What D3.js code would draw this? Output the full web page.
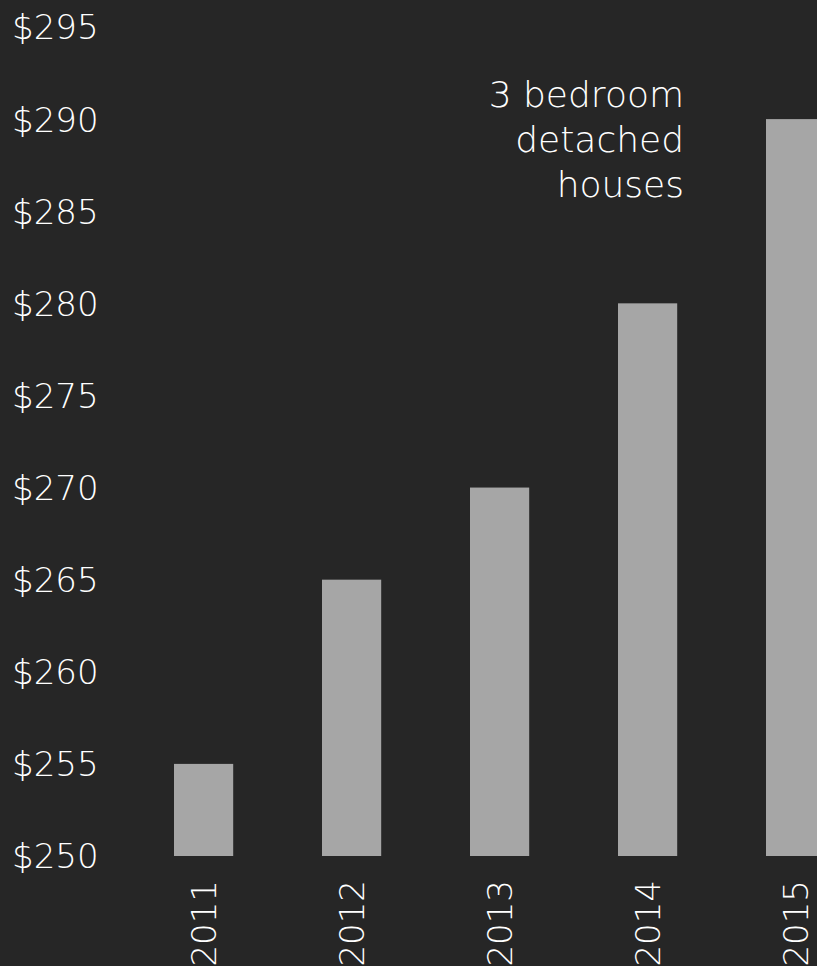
<!DOCTYPE html>
<html><head><meta charset="utf-8">
<script src="https://cdn.jsdelivr.net/npm/d3@7"></script>
<style>
html,body{margin:0;padding:0;background:#262626;}
svg{display:block;}
text{font-family:"Century Gothic","DejaVu Sans ExtraLight","DejaVu Sans",sans-serif;font-weight:200;fill:#ffffff;}
</style></head>
<body>
<script>
const categories = ["2011","2012","2013","2014","2015"];
const values = [255, 265, 270, 280, 290];
const yTicks = [250,255,260,265,270,275,280,285,290,295];
const annotation = ["3 bedroom","detached","houses"];

const W = 817, H = 966;
const svg = d3.select("body").append("svg").attr("width", W).attr("height", H);
svg.append("rect").attr("width", W).attr("height", H).attr("fill", "#262626");

const y = d3.scaleLinear().domain([250, 295]).range([856, 27]);
const x = d3.scaleBand().domain(categories).range([129.6, 869.6]).paddingInner(0.6).paddingOuter(0.3);

svg.append("g").selectAll("rect").data(values).join("rect")
  .attr("x", (d,i) => x(categories[i]))
  .attr("width", x.bandwidth())
  .attr("y", d => y(d))
  .attr("height", d => y(250) - y(d))
  .attr("fill", "#a6a6a6");

const yAxis = d3.axisLeft(y).tickValues(yTicks).tickFormat(d => "$" + d).tickSize(0).tickPadding(0);
const gy = svg.append("g").attr("transform", "translate(12,0)").call(yAxis);
gy.select(".domain").remove();
gy.selectAll("text").attr("text-anchor", "start").attr("x", 0).attr("dy", "0.35em")
  .style("font-size", "34px").attr("fill", "#ffffff");

const xAxis = d3.axisBottom(x).tickSize(0).tickPadding(0);
const gx = svg.append("g").attr("transform", "translate(0,880)").call(xAxis);
gx.select(".domain").remove();
gx.selectAll("text").attr("transform", "rotate(-90)").attr("text-anchor", "end")
  .attr("x", 0).attr("y", 0).attr("dy", "0.35em")
  .style("font-size", "34px").attr("fill", "#ffffff");

svg.append("text").attr("text-anchor", "end").attr("x", 684)
  .style("font-size", "36px")
  .selectAll("tspan").data(annotation).join("tspan")
  .attr("x", 684).attr("y", (d,i) => 107 + i*45).text(d => d);
</script>
</body></html>
